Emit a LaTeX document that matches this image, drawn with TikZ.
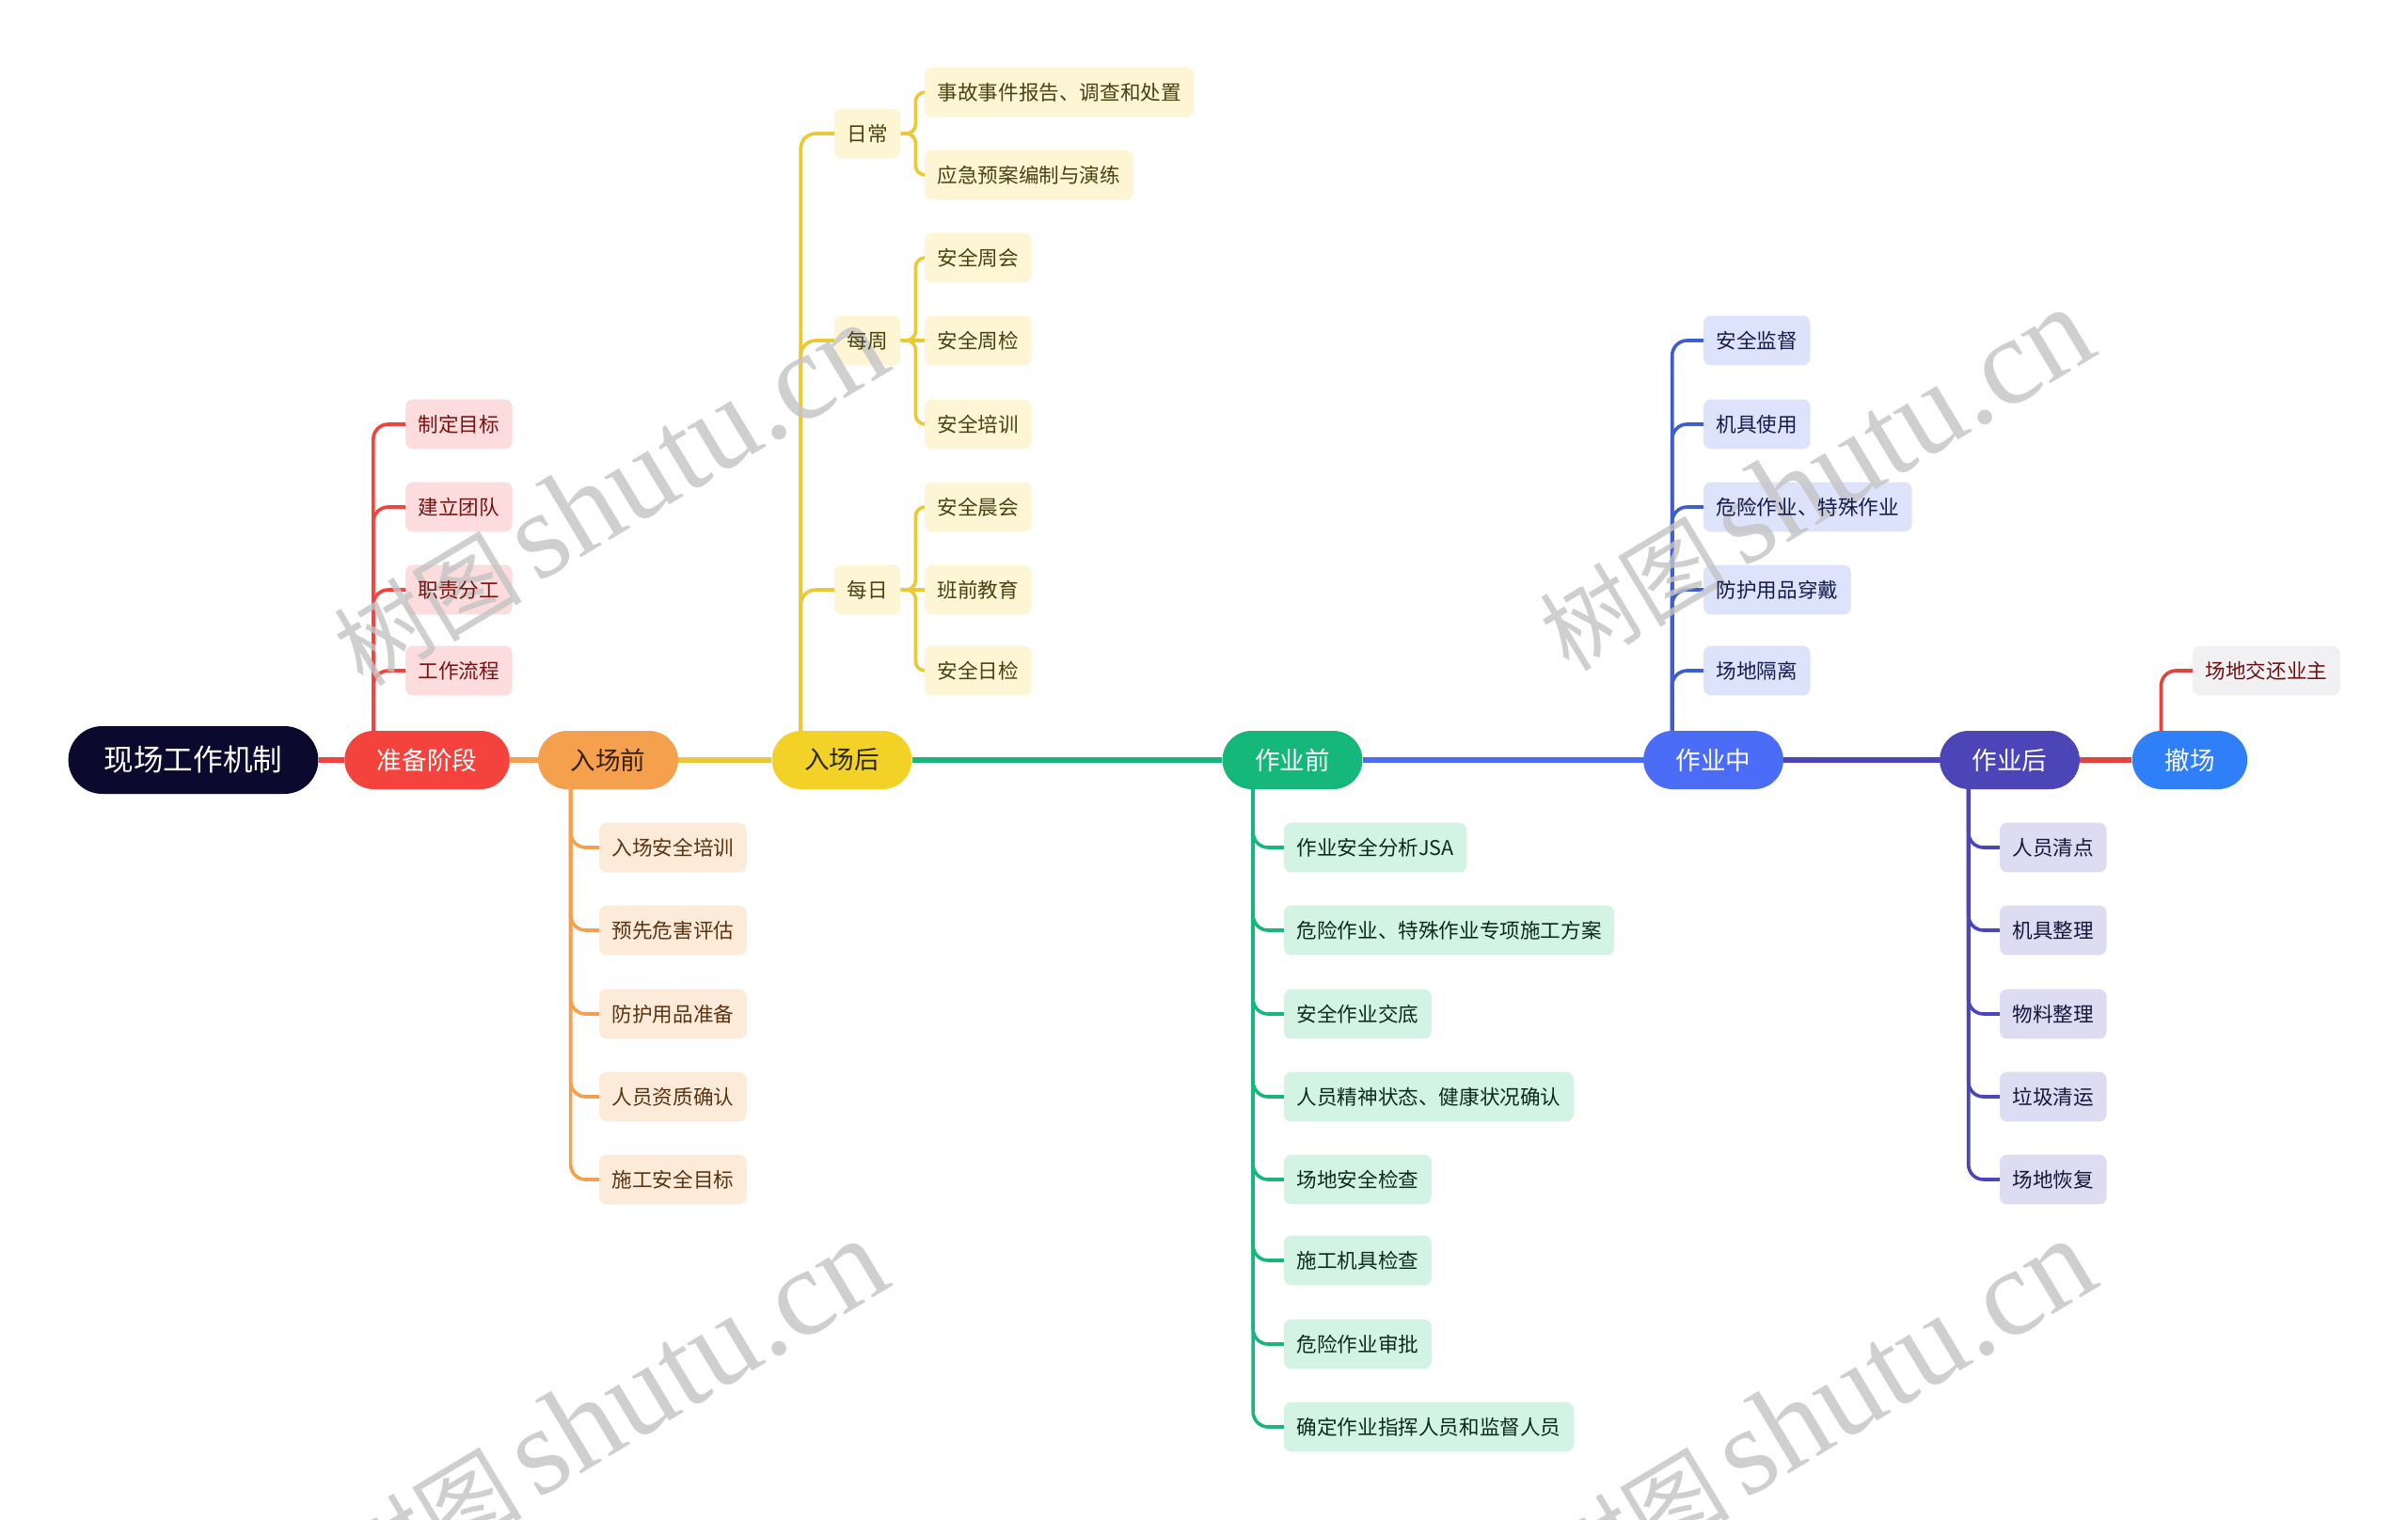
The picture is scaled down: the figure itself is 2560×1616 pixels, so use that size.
\documentclass[tikz,border=0pt]{standalone}
\usepackage{fontspec}
\newfontfamily\cjk{Noto Sans CJK SC}
\newfontfamily\wmserif{Liberation Serif}
\usetikzlibrary{shapes.misc}
\pgfdeclarelayer{bg}
\pgfdeclarelayer{boxes}
\pgfdeclarelayer{wmark}
\pgfsetlayers{bg,boxes,wmark,main}
\definecolor{cRoot}{HTML}{0B0A2E}
\definecolor{cPrep}{HTML}{F4433D}
\definecolor{cPrepL}{HTML}{FCDCDC}
\definecolor{cPrepT}{HTML}{7A1212}
\definecolor{cPre}{HTML}{F5A04C}
\definecolor{cPreL}{HTML}{FDEBDA}
\definecolor{cPreT}{HTML}{5A3312}
\definecolor{cIn}{HTML}{F2D227}
\definecolor{cInLine}{HTML}{EBC835}
\definecolor{cInL}{HTML}{FDF5D3}
\definecolor{cInT}{HTML}{4A4212}
\definecolor{cB}{HTML}{15B77B}
\definecolor{cBL}{HTML}{D3F3E5}
\definecolor{cBT}{HTML}{0E2A20}
\definecolor{cD}{HTML}{4A6CF6}
\definecolor{cDLine}{HTML}{3D5DD0}
\definecolor{cDL}{HTML}{DCE3FB}
\definecolor{cDT}{HTML}{141C4E}
\definecolor{cA}{HTML}{4B45B8}
\definecolor{cAL}{HTML}{DDDCF3}
\definecolor{cAT}{HTML}{16163A}
\definecolor{cW}{HTML}{2E7FF8}
\definecolor{cWL}{HTML}{F1F1F4}
\definecolor{cWT}{HTML}{6A1212}
\definecolor{cRed}{HTML}{E2443B}
\definecolor{cWM}{HTML}{C4C4C4}
\begin{document}
\begin{tikzpicture}[x=0.5pt,y=-0.5pt,
  mainnode/.style={rounded rectangle, minimum height=31pt, inner xsep=16pt, inner ysep=0pt,
    font=\cjk\fontsize{13.3}{16}\selectfont, text=white},
  leaf/.style={minimum height=26pt, inner xsep=6.6pt, inner ysep=0pt,
    anchor=west, font=\cjk\fontsize{10.8}{13}\selectfont},
  boxfill/.style={rounded corners=4pt},
  mainline/.style={line width=2.6pt},
  br/.style={line width=1.8pt, rounded corners=8pt},
  br2/.style={line width=1.8pt, rounded corners=5pt},
  wm/.style={rotate=31, text=cWM, opacity=0.8}
]
\useasboundingbox (0,0) rectangle (2560,1616);

% main nodes
\node[mainnode, fill=cRoot, minimum height=36pt, inner xsep=17.5pt, font=\cjk\fontsize{15.8}{18}\selectfont] (root) at (205.5,808) {现场工作机制};
\node[mainnode, fill=cPrep] (prep) at (454,808) {准备阶段};
\node[mainnode, fill=cPre, text=cPreT!60!black] (pre) at (646.5,808) {入场前};
\node[mainnode, fill=cIn, text=cInT!60!black] (inn) at (895,808) {入场后};
\node[mainnode, fill=cB] (bef) at (1374,808) {作业前};
\node[mainnode, fill=cD] (dur) at (1821.5,808) {作业中};
\node[mainnode, fill=cA] (aft) at (2136.5,808) {作业后};
\node[mainnode, fill=cW] (wd) at (2328,808) {撤场};

% 准备阶段 children
\foreach \t/\y [count=\i] in {制定目标/451, 建立团队/539, 职责分工/627, 工作流程/713}
  \node[leaf, text=cPrepT] (p\i) at (431,\y) {\t};
% 入场前 children
\foreach \t/\y [count=\i] in {入场安全培训/901, 预先危害评估/989, 防护用品准备/1078, 人员资质确认/1166, 施工安全目标/1254}
  \node[leaf, text=cPreT] (q\i) at (637,\y) {\t};
% 入场后 children
\node[leaf, text=cInT] (rc) at (887,142) {日常};
\node[leaf, text=cInT] (mz) at (887,362) {每周};
\node[leaf, text=cInT] (mr) at (887,627) {每日};
\node[leaf, text=cInT] (rc1) at (983,98) {事故事件报告、调查和处置};
\node[leaf, text=cInT] (rc2) at (983,186) {应急预案编制与演练};
\foreach \t/\y [count=\i] in {安全周会/274, 安全周检/362, 安全培训/451}
  \node[leaf, text=cInT] (mz\i) at (983,\y) {\t};
\foreach \t/\y [count=\i] in {安全晨会/539, 班前教育/627, 安全日检/713}
  \node[leaf, text=cInT] (mr\i) at (983,\y) {\t};
% 作业前 children
\foreach \t/\y [count=\i] in {作业安全分析JSA/901, 危险作业、特殊作业专项施工方案/989, 安全作业交底/1078, 人员精神状态、健康状况确认/1166, 场地安全检查/1254, 施工机具检查/1340, 危险作业审批/1429, 确定作业指挥人员和监督人员/1517}
  \node[leaf, text=cBT] (b\i) at (1365,\y) {\t};
% 作业中 children
\foreach \t/\y [count=\i] in {安全监督/362, 机具使用/451, 危险作业、特殊作业/539, 防护用品穿戴/627, 场地隔离/713}
  \node[leaf, text=cDT] (d\i) at (1811,\y) {\t};
% 作业后 children
\foreach \t/\y [count=\i] in {人员清点/901, 机具整理/989, 物料整理/1078, 垃圾清运/1166, 场地恢复/1254}
  \node[leaf, text=cAT] (a\i) at (2126,\y) {\t};
% 撤场 child
\node[leaf, text=cWT] (w1) at (2331,713) {场地交还业主};

% box fills (below watermark, below texts)
\begin{pgfonlayer}{boxes}
  \foreach \n in {p1,p2,p3,p4} \fill[boxfill, cPrepL] (\n.south west) rectangle (\n.north east);
  \foreach \n in {q1,q2,q3,q4,q5} \fill[boxfill, cPreL] (\n.south west) rectangle (\n.north east);
  \foreach \n in {rc,mz,mr,rc1,rc2,mz1,mz2,mz3,mr1,mr2,mr3} \fill[boxfill, cInL] (\n.south west) rectangle (\n.north east);
  \foreach \n in {b1,b2,b3,b4,b5,b6,b7,b8} \fill[boxfill, cBL] (\n.south west) rectangle (\n.north east);
  \foreach \n in {d1,d2,d3,d4,d5} \fill[boxfill, cDL] (\n.south west) rectangle (\n.north east);
  \foreach \n in {a1,a2,a3,a4,a5} \fill[boxfill, cAL] (\n.south west) rectangle (\n.north east);
  \fill[boxfill, cWL] (w1.south west) rectangle (w1.north east);
\end{pgfonlayer}

\begin{pgfonlayer}{bg}
  \fill[white] (0,0) rectangle (2560,1616);
  % main chain
  \draw[mainline, cPrep] (root.east) -- (prep.west);
  \draw[mainline, cPre] (prep.east) -- (pre.west);
  \draw[mainline, cInLine] (pre.east) -- (inn.west);
  \draw[mainline, cB] (inn.east) -- (bef.west);
  \draw[mainline, cD] (bef.east) -- (dur.west);
  \draw[mainline, cA] (dur.east) -- (aft.west);
  \draw[mainline, cRed] (aft.east) -- (wd.west);
  % branches
  \foreach \i in {1,...,4} \draw[br, cPrep] ([xshift=15.5pt]prep.west) |- (p\i.west);
  \foreach \i in {1,...,5} \draw[br, cPre] ([xshift=17.5pt]pre.west) |- (q\i.west);
  \foreach \n in {rc,mz,mr} \draw[br, cInLine] ([xshift=15.5pt]inn.west) |- (\n.west);
  \foreach \n in {rc1,rc2} \draw[br2, cInLine] (rc.east) -- ++(8pt,0) |- (\n.west);
  \foreach \n in {mz1,mz3} \draw[br2, cInLine] (mz.east) -- ++(8pt,0) |- (\n.west);
  \draw[br2, cInLine] (mz.east) -- (mz2.west);
  \foreach \n in {mr1,mr3} \draw[br2, cInLine] (mr.east) -- ++(8pt,0) |- (\n.west);
  \draw[br2, cInLine] (mr.east) -- (mr2.west);
  \foreach \i in {1,...,8} \draw[br, cB] ([xshift=16.5pt]bef.west) |- (b\i.west);
  \foreach \i in {1,...,5} \draw[br, cDLine] ([xshift=15.5pt]dur.west) |- (d\i.west);
  \foreach \i in {1,...,5} \draw[br, cA] ([xshift=15.5pt]aft.west) |- (a\i.west);
  \draw[br, cRed] ([xshift=15.5pt]wd.west) |- (w1.west);
\end{pgfonlayer}

% watermarks (above box fills, below texts)
\begin{pgfonlayer}{wmark}
\foreach \cx/\cy in {648/526, 1930/510, 648/1500, 1932/1500}
  \node[wm] at (\cx,\cy) {{\cjk\fontsize{50}{54}\selectfont 树图}\hspace{8pt}{\wmserif\fontsize{66}{70}\selectfont shutu.cn}};
\end{pgfonlayer}
\end{tikzpicture}
\end{document}
